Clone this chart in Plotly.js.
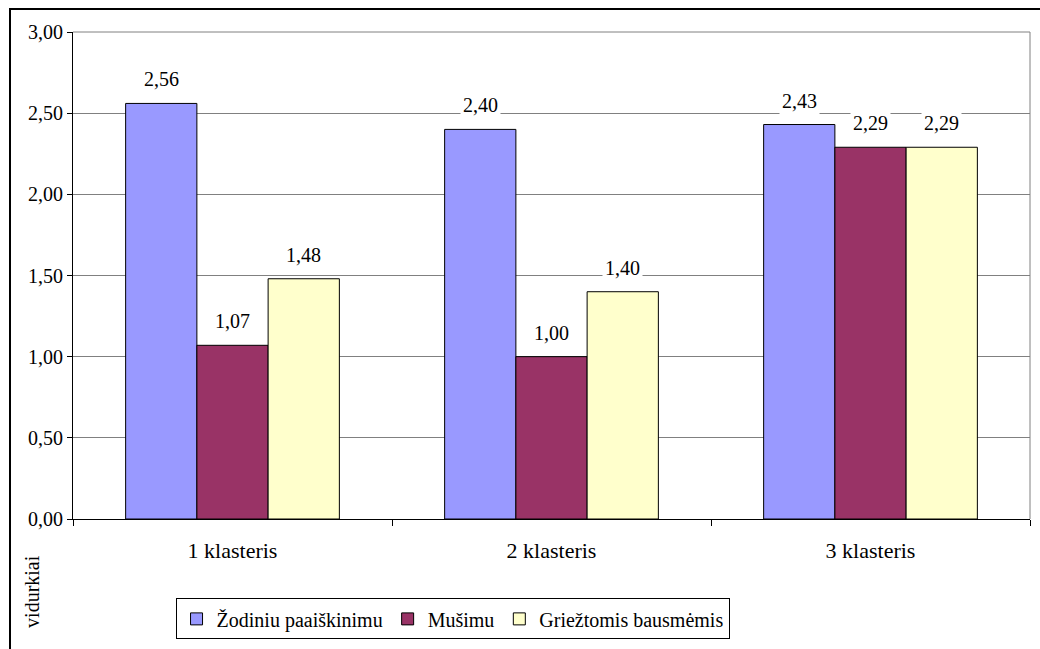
<!DOCTYPE html>
<html>
<head>
<meta charset="utf-8">
<script src="https://cdn.plot.ly/plotly-3.0.1.min.js"></script>
</head>
<body style="margin:0">
<div style="position:relative;width:1040px;height:649px;overflow:hidden">
<div id="chart" style="position:absolute;left:0;top:0;width:1040px;height:649px"></div>
<div style="position:absolute;left:9px;top:8px;width:1100px;height:700px;border:2px solid #000;pointer-events:none"></div>
</div>
<script>
const categories = ['1 klasteris', '2 klasteris', '3 klasteris'];
const seriesNames = ['Žodiniu paaiškinimu', 'Mušimu', 'Griežtomis bausmėmis'];
const zodiniu = [2.56, 2.40, 2.43];
const musimu = [1.07, 1.00, 2.29];
const griez = [1.48, 1.40, 2.29];
const yTicks = [0, 0.5, 1, 1.5, 2, 2.5, 3];
const yTitle = 'vidurkiai';

const colors = ['#9999FF', '#993366', '#FFFFCC'];
const allSeries = [zodiniu, musimu, griez];
const FAM = 'Liberation Serif';

const traces = allSeries.map((vals, k) => ({
  type: 'bar',
  name: seriesNames[k],
  x: categories,
  y: vals,
  marker: {color: colors[k], line: {color: '#000', width: 1}},
  hoverinfo: 'none'
}));

const bargap = 0.33;
const bw = (1 - bargap) / allSeries.length;
const annotations = [];
allSeries.forEach((vals, k) => {
  vals.forEach((v, i) => {
    annotations.push({
      x: i + (k - 1) * bw, y: v, xref: 'x', yref: 'y',
      text: v.toFixed(2).replace('.', ','),
      showarrow: false, yanchor: 'bottom', yshift: 10,
      bgcolor: '#fff', borderpad: 2,
      font: {family: FAM, size: 20, color: '#000'}
    });
  });
});
annotations.push({
  xref: 'paper', yref: 'paper', x: -0.043, y: -0.148,
  xanchor: 'center', yanchor: 'middle', textangle: -90,
  text: yTitle, showarrow: false, font: {family: FAM, size: 20, color: '#000'}
});

const layout = {
  width: 1040, height: 649,
  margin: {l: 73, r: 10, t: 32, b: 126},
  paper_bgcolor: '#fff', plot_bgcolor: '#fff',
  separators: ',.',
  font: {family: FAM, size: 20, color: '#000'},
  barmode: 'group', bargap: bargap, bargroupgap: 0,
  showlegend: true,
  legend: {
    orientation: 'h', x: 0.3966, xanchor: 'center', y: -0.163, yanchor: 'top',
    bordercolor: '#000', borderwidth: 1, bgcolor: '#fff',
    font: {family: FAM, size: 20, color: '#000'}, traceorder: 'normal'
  },
  xaxis: {
    type: 'category', showline: true, linecolor: '#000', linewidth: 1,
    ticks: 'outside', tickson: 'boundaries', ticklen: 6, tickcolor: '#000',
    showgrid: false, tickfont: {family: FAM, size: 22, color: '#000'}, ticklabelstandoff: 12
  },
  yaxis: {
    range: [0, 3], tickvals: yTicks, tickformat: '.2f',
    showline: true, linecolor: '#000', linewidth: 1,
    ticks: 'outside', ticklen: 5, tickcolor: '#000',
    showgrid: true, gridcolor: '#808080', gridwidth: 1, zeroline: false,
    tickfont: {family: FAM, size: 20, color: '#000'}
  },
  shapes: [
    {type: 'line', xref: 'paper', yref: 'paper', x0: 0, x1: 1, y0: 1, y1: 1, line: {color: '#808080', width: 1}},
    {type: 'line', xref: 'paper', yref: 'paper', x0: 1, x1: 1, y0: 0, y1: 1, line: {color: '#808080', width: 1}}
  ],
  annotations: annotations
};

Plotly.newPlot('chart', traces, layout, {displayModeBar: false, staticPlot: true});
</script>
</body>
</html>
